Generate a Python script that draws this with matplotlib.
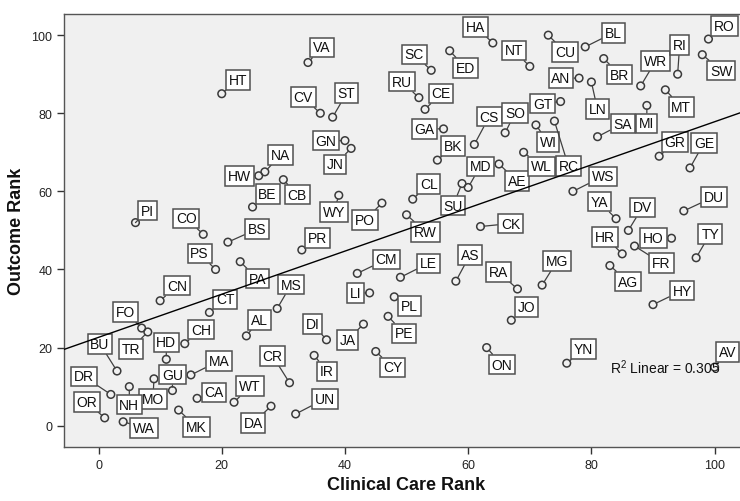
import numpy as np
import matplotlib
matplotlib.use("Agg")
import matplotlib.pyplot as plt

plt.rcParams['font.family'] = ['Liberation Sans', 'DejaVu Sans']
plt.rcParams['mathtext.default'] = 'regular'

# codigos de cada caso (etiquetas de los puntos)
codes = ["HT", "NA", "HW", "CB", "BE", "PI", "CO", "VA", "CV", "ST",
         "GN", "JN", "SC", "ED", "HA", "RU", "CE", "GA", "CS", "BK",
         "MD", "SU", "AE", "CL", "RW", "PO", "WY", "CK", "NT", "CU",
         "BL", "BR", "AN", "LN", "GT", "SO", "WI", "RC", "WL", "SA",
         "MI", "MT", "WR", "RI", "RO", "SW", "GR", "GE", "WS", "YA",
         "DV", "DU", "HR", "HO", "FR", "TY", "AG", "HY", "MG", "RA",
         "JO", "YN", "AV", "ON", "PR", "CM", "LE", "AS", "LI", "PL",
         "PE", "MS", "DI", "JA", "CY", "IR", "UN", "CR", "BS", "PS",
         "PA", "CN", "CT", "AL", "FO", "TR", "BU", "CH", "HD", "GU",
         "MO", "MA", "DR", "OR", "NH", "WA", "MK", "CA", "WT", "DA"]

clinical_care_rank = [20, 27, 26, 30, 25, 6, 17, 34, 36, 38,
                      40, 41, 54, 57, 64, 52, 53, 56, 61, 55,
                      60, 59, 65, 51, 50, 46, 39, 62, 70, 73,
                      79, 82, 78, 80, 75, 66, 71, 74, 69, 81,
                      89, 92, 88, 94, 99, 98, 91, 96, 77, 84,
                      86, 95, 85, 93, 87, 97, 83, 90, 72, 68,
                      67, 76, 100, 63, 33, 42, 49, 58, 44, 48,
                      47, 29, 37, 43, 45, 35, 32, 31, 21, 19,
                      23, 10, 18, 24, 7, 8, 3, 14, 11, 12,
                      9, 15, 2, 1, 5, 4, 13, 16, 22, 28]

outcome_rank = [85, 65, 64, 63, 56, 52, 49, 93, 80, 79,
                73, 71, 91, 96, 98, 84, 81, 76, 72, 68,
                61, 62, 67, 58, 54, 57, 59, 51, 92, 100,
                97, 94, 89, 88, 83, 75, 77, 78, 70, 74,
                82, 86, 87, 90, 99, 95, 69, 66, 60, 53,
                50, 55, 44, 48, 46, 43, 41, 31, 36, 35,
                27, 16, 15, 20, 45, 39, 38, 37, 34, 33,
                28, 30, 22, 26, 19, 18, 3, 11, 47, 40,
                42, 32, 29, 23, 25, 24, 14, 21, 17, 9,
                12, 13, 8, 2, 10, 1, 4, 7, 6, 5]

r2_text = "R$^2$ Linear = 0.305"

# donde va cada etiqueta respecto a su punto (pixeles, dx, dy hacia arriba)
offsets = {
    "HT": (16, 14), "NA": (16, 17), "HW": (-19, 0), "CB": (14, -15), "BE": (15, 13),
    "PI": (12, 12), "CO": (-17, 16), "VA": (14, 15), "CV": (-17, 16), "ST": (14, 24),
    "GN": (-19, 0), "JN": (-16, -16), "SC": (-17, 16), "ED": (16, -17), "HA": (-17, 16),
    "RU": (-17, 16), "CE": (16, 16), "GA": (-19, 0), "CS": (15, 28), "BK": (16, 14),
    "MD": (12, 21), "SU": (-9, -22), "AE": (18, -17), "CL": (16, 15), "RW": (19, -17),
    "PO": (-17, -17), "WY": (-5, -17), "CK": (30, 3), "NT": (-16, 16), "CU": (17, -17),
    "BL": (28, 14), "BR": (16, -16), "AN": (-18, 0), "LN": (6, -27), "GT": (-18, -2),
    "SO": (10, 20), "WI": (12, -17), "RC": (14, -45), "WL": (18, -14), "SA": (25, 13),
    "MI": (0, -18), "MT": (16, -17), "WR": (15, 25), "RI": (2, 29), "RO": (16, 13),
    "SW": (19, -16), "GR": (16, 14), "GE": (14, 25), "WS": (30, 15), "YA": (-17, 17),
    "DV": (14, 23), "DU": (30, 14), "HR": (-17, 17), "HO": (-18, 0), "FR": (27, -17),
    "TY": (14, 24), "AG": (18, -16), "HY": (29, 14), "MG": (15, 24), "RA": (-19, 17),
    "JO": (15, 13), "YN": (17, 14), "AV": (13, 15), "ON": (15, -17), "PR": (16, 12),
    "CM": (29, 14), "LE": (28, 14), "AS": (14, 26), "LI": (-14, 0), "PL": (15, -9),
    "PE": (16, -17), "MS": (14, 24), "DI": (-14, 16), "JA": (-16, -16), "CY": (17, -16),
    "IR": (13, -16), "UN": (29, 15), "CR": (-17, 27), "BS": (29, 13), "PS": (-16, 16),
    "PA": (17, -17), "CN": (17, 15), "CT": (16, 13), "AL": (13, 16), "FO": (-16, 16),
    "TR": (-17, -17), "BU": (-17, 27), "CH": (16, 14), "HD": (0, 17), "GU": (0, 16),
    "MO": (-1, -20), "MA": (28, 14), "DR": (-27, 18), "OR": (-18, 16), "NH": (0, -18),
    "WA": (21, -6), "MK": (18, -17), "CA": (17, 6), "WT": (16, 16), "DA": (-18, -17),
}

fig = plt.figure(figsize=(7.4, 5.02), dpi=100)
ax = fig.add_axes([0.0865, 0.108, 0.915, 0.862])
ax.set_facecolor('#f0f0f0')

x = np.array(clinical_care_rank, dtype=float)
y = np.array(outcome_rank, dtype=float)

ax.set_xlim(-5.6, 104.3)
ax.set_ylim(-5.4, 105.4)

# puntos
ax.scatter(x, y, s=30, facecolors='none', edgecolors='#3a3a3a', linewidths=1.1, zorder=3)

# etiquetas con linea
for code, xi, yi in zip(codes, x, y):
    dx, dy = offsets[code]
    ax.annotate(code, (xi, yi), xytext=(dx, dy), textcoords='offset pixels',
                ha='center', va='center', fontsize=10, color='#111111', zorder=4,
                annotation_clip=False,
                bbox=dict(boxstyle='square,pad=0.2', fc='white', ec='#505050', lw=1.1),
                arrowprops=dict(arrowstyle='-', color='#404040', lw=0.9,
                                shrinkA=0, shrinkB=2.5))

# recta de ajuste
slope, intercept = np.polyfit(x, y, 1)
xs = np.array(ax.get_xlim())
ax.plot(xs, intercept + slope * xs, color='black', lw=1.0, zorder=5)
ax.text(83.0, 15.0, r2_text, fontsize=10, ha='left', va='center', color='#111111', zorder=6)

ax.set_xticks([0, 20, 40, 60, 80, 100])
ax.set_yticks([0, 20, 40, 60, 80, 100])
ax.tick_params(direction='out', length=5, width=1, color='#333333',
               labelsize=9, labelcolor='#222222')
for s in ax.spines.values():
    s.set_color('#555555')
    s.set_linewidth(1.0)

ax.set_xlabel("Clinical Care Rank", fontsize=13, fontweight='bold', color='#111111')
ax.set_ylabel("Outcome Rank", fontsize=13, fontweight='bold', color='#111111')
ax.xaxis.set_label_coords(0.505, -0.068)
ax.yaxis.set_label_coords(-0.058, 0.5)

fig.savefig("out.png", dpi=100, facecolor='white')
print(slope, intercept)
